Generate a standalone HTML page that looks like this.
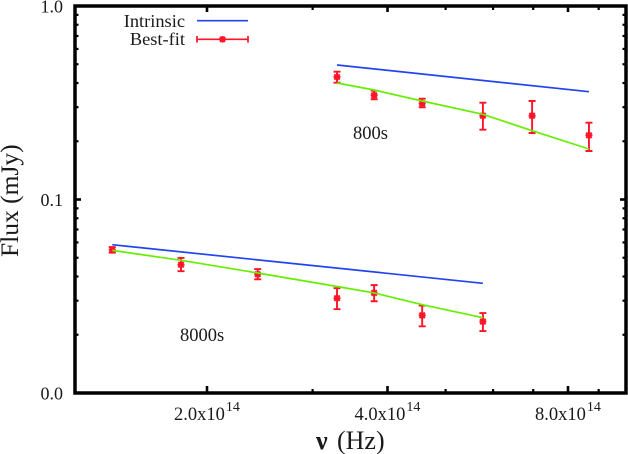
<!DOCTYPE html>
<html>
<head>
<meta charset="utf-8">
<title>Flux vs frequency</title>
<style>
html,body{margin:0;padding:0;background:#fff;}
svg{display:block;}
text{font-family:"Liberation Serif",serif;fill:#1a1a1a;}
</style>
</head>
<body>
<svg id="chart" xmlns="http://www.w3.org/2000/svg" width="628" height="454" viewBox="0 0 628 454">
  <rect x="0" y="0" width="628" height="454" fill="#ffffff"/>
  <g id="axes"></g>
  <g id="series"></g>
  <rect x="75" y="6" width="551" height="387" fill="none" stroke="#000" stroke-width="3.5"/>
  <text transform="translate(18,257) rotate(-90)" font-size="25.5">Flux (mJy)</text>
  <text y="449" font-size="26"><tspan x="316" font-weight="bold">ν</tspan><tspan x="337">(Hz)</tspan></text>
  <text x="353" y="139" font-size="18.5">800s</text>
  <text x="180" y="341" font-size="18.5">8000s</text>
  <g>
    <text x="185" y="27" font-size="18.4" text-anchor="end">Intrinsic</text>
    <line x1="197" y1="20.7" x2="248" y2="20.7" stroke="#2244ee" stroke-width="1.6"/>
    <text x="185" y="45" font-size="18.4" text-anchor="end">Best-fit</text>
    <g stroke="#ff1428" stroke-width="1.7" fill="none">
      <path d="M197 39.3H248M197 36V42.6M248 36V42.6"/>
      <path stroke-width="2" d="M219 39.3H226M222.5 36V42.6M220 36.8L225 41.8M220 41.8L225 36.8"/>
    </g>
  </g>
</svg>
<script>
// Data: frequency in units of 1e14 Hz, flux in mJy
var nu800 = [3.295, 3.80, 4.57, 5.77, 6.97, 8.67];
var flux800 = [0.4295, 0.3455, 0.3141, 0.2711, 0.2711, 0.2147];
var fluxHigh800 = [0.4575, 0.365, 0.3319, 0.3163, 0.3229, 0.2494];
var fluxLow800 = [0.4014, 0.3295, 0.2996, 0.2294, 0.2206, 0.1781];
var fit800 = [0.4, 0.368, 0.3229, 0.2757, 0.2268, 0.1824];
var intrinsicNu800 = [3.295, 8.67];
var intrinsic800 = [0.4956, 0.3606];

var nu8000 = [1.39, 1.81, 2.43, 3.295, 3.80, 4.57, 5.77];
var flux8000 = [0.055, 0.046, 0.0411, 0.0309, 0.0329, 0.0252, 0.0234];
var fluxHigh8000 = [0.0568, 0.0499, 0.0437, 0.0348, 0.0361, 0.0283, 0.0259];
var fluxLow8000 = [0.0531, 0.0426, 0.0387, 0.0271, 0.0298, 0.0221, 0.0209];
var fit8000 = [0.0546, 0.0485, 0.0417, 0.0355, 0.0329, 0.0286, 0.0245];
var intrinsicNu8000 = [1.39, 5.77];
var intrinsic8000 = [0.0584, 0.0369];

var xMajorTicks = [2, 4, 8];
var xMajorLabels = ["2.0x10", "4.0x10", "8.0x10"];
var xMinorTicks = [3, 5, 6, 7, 9];
var yMajorTicks = [1, 0.1, 0.01];
var yMajorLabels = ["1.0", "0.1", "0.0"];
var yMinorTicks = [0.9, 0.8, 0.7, 0.6, 0.5, 0.4, 0.3, 0.2, 0.09, 0.08, 0.07, 0.06, 0.05, 0.04, 0.03, 0.02];

var NS = "http://www.w3.org/2000/svg";
function xScale(v) { return 207 + 180.5 * Math.log(v / 2) / Math.LN2; }
function yScale(v) { return 6 - 193.5 * Math.log(v) / Math.LN10; }
function mk(tag, parent, attrs) {
  var el = document.createElementNS(NS, tag);
  for (var k in attrs) el.setAttribute(k, attrs[k]);
  parent.appendChild(el);
  return el;
}
var axes = document.getElementById("axes");
var series = document.getElementById("series");

function tick(x1, y1, x2, y2, w, name) {
  var t = mk("line", axes, { x1: x1, y1: y1, x2: x2, y2: y2, stroke: "#000", "stroke-width": w });
  
  
}
xMajorTicks.forEach(function (v, i) {
  var x = xScale(v);
  tick(x, 393, x, 386, 2.6, "x-major-tick");
  tick(x, 6, x, 12, 2.6, "x-major-tick-top");
  var label = mk("text", axes, { x: x - 33, y: 420, "font-size": 18.5 });
  
  
  label.textContent = xMajorLabels[i];
  var sup = mk("tspan", label, { dy: -9, dx: 1, "font-size": 14 });
  sup.textContent = "14";
});
xMinorTicks.forEach(function (v) {
  var x = xScale(v);
  tick(x, 393, x, 389, 2.2, "x-minor-tick");
  tick(x, 6, x, 10, 2.2, "x-minor-tick-top");
});
yMajorTicks.forEach(function (v, i) {
  var y = yScale(v);
  tick(75, y, 81, y, 2.6, "y-major-tick");
  tick(626, y, 620, y, 2.6, "y-major-tick-right");
  var label = mk("text", axes, { x: 63, y: y + 6.5, "font-size": 18, "text-anchor": "end" });
  
  
  label.textContent = yMajorLabels[i];
});
yMinorTicks.forEach(function (v) {
  var y = yScale(v);
  tick(75, y, 78.5, y, 2.2, "y-minor-tick");
  tick(626, y, 622.5, y, 2.2, "y-minor-tick-right");
});

function polyline(xs, ys, color, name) {
  var pts = xs.map(function (v, i) { return xScale(v).toFixed(1) + "," + yScale(ys[i]).toFixed(1); }).join(" ");
  var p = mk("polyline", series, { points: pts, fill: "none", stroke: color, "stroke-width": 1.7 });
  
  
}
function points(xs, ys, hi, lo, name) {
  xs.forEach(function (v, i) {
    var x = xScale(v), y = yScale(ys[i]), t = yScale(hi[i]), b = yScale(lo[i]);
    var d = "M" + x + " " + t + "V" + b + "M" + (x - 3.5) + " " + t + "H" + (x + 3.5) + "M" + (x - 3.5) + " " + b + "H" + (x + 3.5);
    var p = mk("path", series, { d: d, fill: "none", stroke: "#ff1428", "stroke-width": 1.9 });
    
    
    var md = "M" + (x - 3.5) + " " + y + "H" + (x + 3.5) + "M" + x + " " + (y - 3.5) + "V" + (y + 3.5) +
      "M" + (x - 2.7) + " " + (y - 2.7) + "L" + (x + 2.7) + " " + (y + 2.7) +
      "M" + (x - 2.7) + " " + (y + 2.7) + "L" + (x + 2.7) + " " + (y - 2.7);
    var m = mk("path", series, { d: md, fill: "none", stroke: "#ff1428", "stroke-width": 2 });
    
    
  });
}
polyline(intrinsicNu800, intrinsic800, "#2244ee", "intrinsic-line-800s");
polyline(intrinsicNu8000, intrinsic8000, "#2244ee", "intrinsic-line-8000s");
points(nu800, flux800, fluxHigh800, fluxLow800, "data-point-800s");
points(nu8000, flux8000, fluxHigh8000, fluxLow8000, "data-point-8000s");
polyline(nu800, fit800, "#66ee00", "best-fit-line-800s");
polyline(nu8000, fit8000, "#66ee00", "best-fit-line-8000s");
</script>
</body>
</html>
